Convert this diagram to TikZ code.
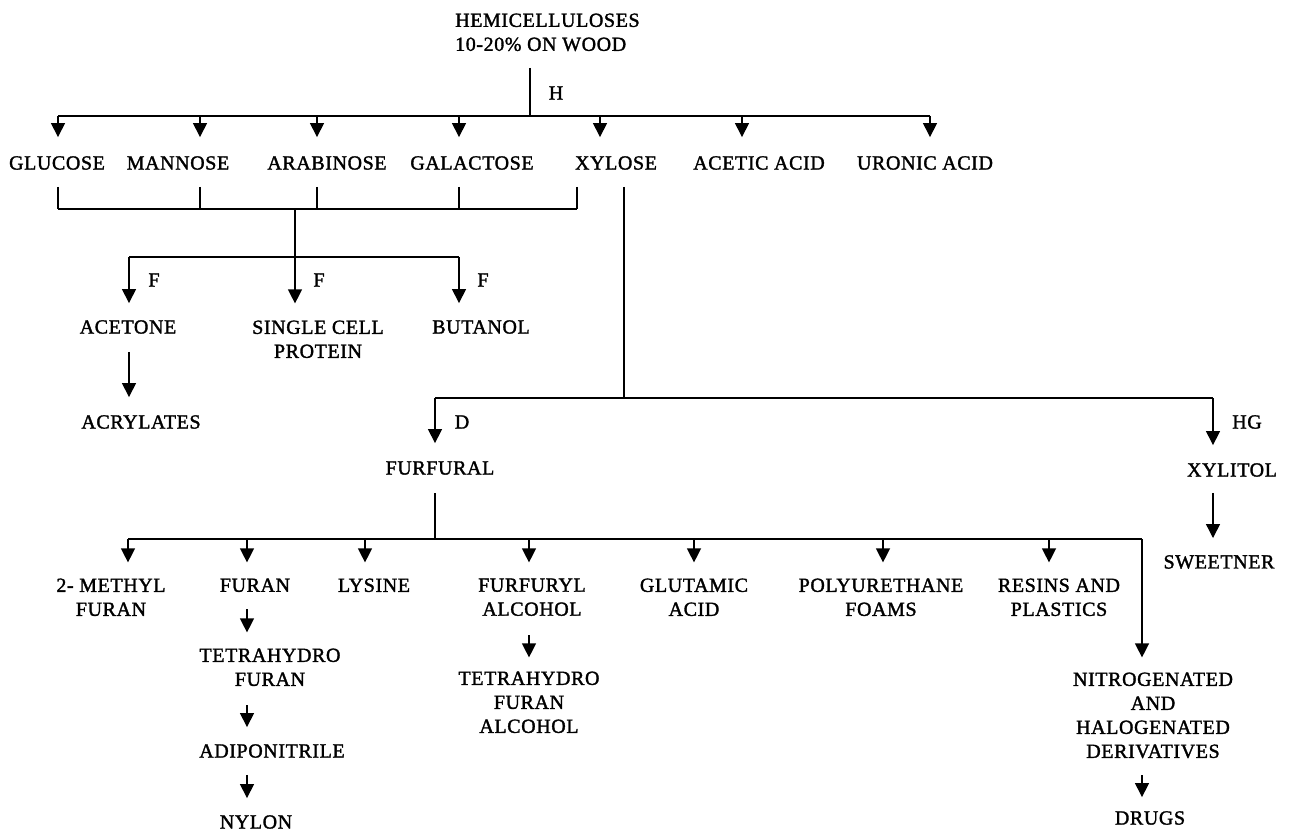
\documentclass[tikz,border=0pt]{standalone}
\usepackage{fontspec}
\setmainfont{Liberation Serif}[LetterSpace=3,FakeBold=1.6]
\usetikzlibrary{arrows.meta}
\tikzset{
  lab/.style={inner sep=0pt, align=center, font=\fontsize{20}{24}\selectfont},
  ln/.style={line width=1.3pt, black},
  arr/.style={ln, -{Triangle[length=14pt,width=14pt]}},
}
\begin{document}
\begin{tikzpicture}[x=1pt,y=-1pt]
\useasboundingbox (0,0) rectangle (1290,834);
% ---------- nodes ----------
\node[lab, align=left, anchor=north west] (title) at (455,13.4) {HEMICELLULOSES\\10-20\% ON WOOD};
\node[lab] (gluc) at (57,163) {GLUCOSE};
\node[lab] (mann) at (178,163) {MANNOSE};
\node[lab] (arab) at (327,163) {ARABINOSE};
\node[lab] (gala) at (472,163) {GALACTOSE};
\node[lab] (xylo) at (616,163) {XYLOSE};
\node[lab] (acet) at (759,163) {ACETIC ACID};
\node[lab] (uron) at (925,163) {URONIC ACID};
\node[lab] (aceto) at (128,327) {ACETONE};
\node[lab, anchor=north] (scp) at (318,320.4) {SINGLE CELL\\PROTEIN};
\node[lab] (buta) at (481,327) {BUTANOL};
\node[lab] (acry) at (141,422) {ACRYLATES};
\node[lab] (furf) at (440,468) {FURFURAL};
\node[lab] (xyli) at (1232,470) {XYLITOL};
\node[lab] (swee) at (1219,562) {SWEETNER};
\node[lab, anchor=north] (meth) at (111,578.4) {2- METHYL\\FURAN};
\node[lab, anchor=north] (fura) at (255,578.4) {FURAN};
\node[lab, anchor=north] (lysi) at (374,578.4) {LYSINE};
\node[lab, anchor=north] (fufa) at (532,578.4) {FURFURYL\\ALCOHOL};
\node[lab, anchor=north] (glut) at (694,578.4) {GLUTAMIC\\ACID};
\node[lab, anchor=north] (poly) at (881,578.4) {POLYURETHANE\\FOAMS};
\node[lab, anchor=north] (resi) at (1059,578.4) {RESINS AND\\PLASTICS};
\node[lab, anchor=north] (thf) at (270,648.4) {TETRAHYDRO\\FURAN};
\node[lab] (adip) at (272,751) {ADIPONITRILE};
\node[lab] (nylo) at (256,822) {NYLON};
\node[lab, anchor=north] (thfa) at (529,671.4) {TETRAHYDRO\\FURAN\\ALCOHOL};
\node[lab, anchor=north] (nitr) at (1153,672.4) {NITROGENATED\\AND\\HALOGENATED\\DERIVATIVES};
\node[lab] (drug) at (1150,818) {DRUGS};
% edge labels
\node[lab] (lH) at (556,93) {H};
\node[lab] (lF1) at (154,280) {F};
\node[lab] (lF2) at (319,280) {F};
\node[lab] (lF3) at (483,280) {F};
\node[lab] (lD) at (462,422) {D};
\node[lab] (lHG) at (1247,422) {HG};
% ---------- junctions ----------
\coordinate (t0) at (530,68);
\coordinate (t1) at (530,116);
\foreach \n/\x in {1/58,2/200,3/317,4/459,5/600,6/742,7/930}
  \coordinate (b\n) at (\x,116);
\foreach \n/\x in {1/58,2/200,3/317,4/459,5/577}
  {\coordinate (k\n) at (\x,209); \coordinate (ku\n) at (\x,187);}
\coordinate (kd) at (295,209);
\coordinate (f2) at (295,257);
\coordinate (f1) at (129,257);
\coordinate (f3) at (459,257);
\coordinate (xv0) at (624,187);
\coordinate (xv1) at (624,398);
\coordinate (d1) at (435,398);
\coordinate (d2) at (1213,398);
\coordinate (fv0) at (435,493);
\foreach \n/\x in {1/128,2/247,3/365,4/529,5/694,6/883,7/1049,8/1142}
  \coordinate (r\n) at (\x,539);
% ---------- connectors ----------
\draw[ln] (t0) -- (t1);
\draw[ln] (b1) -- (b7);
\draw[arr] (b1) -- ([yshift=19pt]b1 |- gluc.north);
\draw[arr] (b2) -- ([yshift=19pt]b2 |- mann.north);
\draw[arr] (b3) -- ([yshift=19pt]b3 |- arab.north);
\draw[arr] (b4) -- ([yshift=19pt]b4 |- gala.north);
\draw[arr] (b5) -- ([yshift=19pt]b5 |- xylo.north);
\draw[arr] (b6) -- ([yshift=19pt]b6 |- acet.north);
\draw[arr] (b7) -- ([yshift=19pt]b7 |- uron.north);
% bracket of the hexoses/pentoses
\foreach \n in {1,...,5} \draw[ln] (ku\n) -- (k\n);
\draw[ln] (k1) -- (k5);
\draw[ln] (kd) -- (f2);
\draw[ln] (f1) -- (f3);
\draw[arr] (f1) -- ([yshift=17pt]f1 |- aceto.north);
\draw[arr] (f2) -- ([yshift=17pt]f2 |- scp.north);
\draw[arr] (f3) -- ([yshift=17pt]f3 |- buta.north);
\draw[arr] ([yshift=-18pt]f1 |- aceto.south) -- ([yshift=18pt]f1 |- acry.north);
% xylose branch
\draw[ln] (xv0) -- (xv1);
\draw[ln] (d1) -- (d2);
\draw[arr] (d1) -- ([yshift=18pt]d1 |- furf.north);
\draw[arr] (d2) -- ([yshift=18pt]d2 |- xyli.north);
\draw[arr] ([yshift=-16pt]d2 |- xyli.south) -- ([yshift=17pt]d2 |- swee.north);
% furfural products
\draw[ln] (fv0) -- (fv0 |- r1);
\draw[ln] (r1) -- (r8);
\draw[arr] (r1) -- ([yshift=16pt]r1 |- meth.north);
\draw[arr] (r2) -- ([yshift=16pt]r2 |- fura.north);
\draw[arr] (r3) -- ([yshift=16pt]r3 |- lysi.north);
\draw[arr] (r4) -- ([yshift=16pt]r4 |- fufa.north);
\draw[arr] (r5) -- ([yshift=16pt]r5 |- glut.north);
\draw[arr] (r6) -- ([yshift=16pt]r6 |- poly.north);
\draw[arr] (r7) -- ([yshift=16pt]r7 |- resi.north);
\draw[arr] (r8) -- ([yshift=15pt]r8 |- nitr.north);
\draw[arr] ([yshift=-17pt]r2 |- fura.south) -- ([yshift=16pt]r2 |- thf.north);
\draw[arr] ([yshift=-19pt]r2 |- thf.south) -- ([yshift=17pt]r2 |- adip.north);
\draw[arr] ([yshift=-17pt]r2 |- adip.south) -- ([yshift=17pt]r2 |- nylo.north);
\draw[arr] ([yshift=-19pt]r4 |- fufa.south) -- ([yshift=14pt]r4 |- thfa.north);
\draw[arr] ([yshift=-17pt]r8 |- nitr.south) -- ([yshift=14pt]r8 |- drug.north);
\end{tikzpicture}
\end{document}
